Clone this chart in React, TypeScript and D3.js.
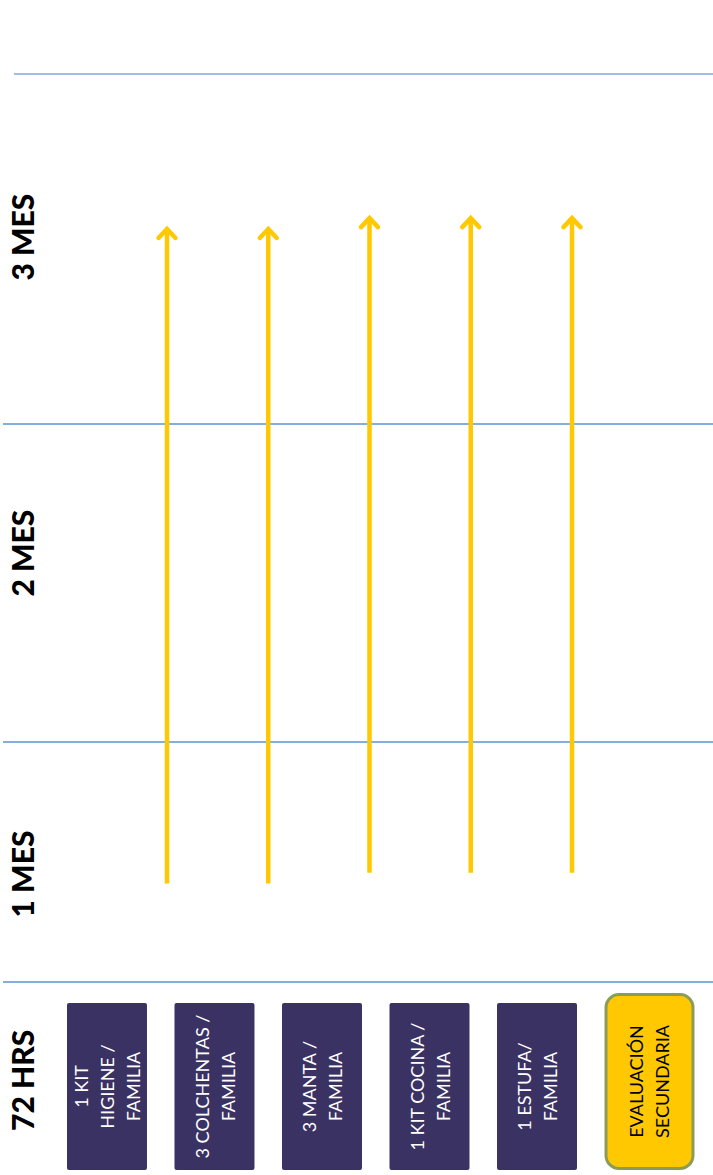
import * as d3 from "d3";

// time in months along the (vertical) timeline; the slide is rotated
const boundaryMonths = [0, 1, 2, 3];
const periodLabels = ["72 HRS", "1 MES", "2 MES", "3 MES"];
const periodLabelAt = [-0.41, 0.45, 1.594, 2.534];

const items = [
  ["1 KIT", "HIGIENE /", "FAMILIA"],
  ["3 COLCHENTAS /", "FAMILIA"],
  ["3 MANTA /", "FAMILIA"],
  ["1 KIT COCINA /", "FAMILIA"],
  ["1 ESTUFA/", "FAMILIA"],
];
const evalLabel = ["EVALUACIÓN", "SECUNDARIA"];

const arrowStart = [0.41, 0.41, 0.455, 0.455, 0.455];
const arrowEnd = [2.563, 2.563, 2.594, 2.594, 2.594];

const W = 713;
const H = 1175;
const FONT = "Lato, 'Open Sans', sans-serif";

export default function App() {
  const y = d3.scaleLinear().domain(boundaryMonths).range([982, 742, 424, 74]);

  const boxKeys = [...items.map((_, i) => "item" + i), "eval"];
  const x = d3.scaleBand<string>().domain(boxKeys).range([67, 684.5]).paddingInner(0.256).paddingOuter(0);
  const ax = d3.scalePoint<number>().domain(d3.range(items.length)).range([167, 572]);

  const boxTop = y(-0.088);
  const boxBottom = y(-0.783);
  const evalTop = y(-0.046);

  const lineH = 26;

  const rotatedText = (cx: number, cy: number, lines: string[], fill: string, size: number) => (
    <text
      transform={`translate(${cx},${cy}) rotate(-90)`}
      textAnchor="middle"
      fontFamily={FONT}
      fontSize={size}
      fill={fill}
    >
      {lines.map((l, j) => (
        <tspan key={j} x={0} y={(j - (lines.length - 1) / 2) * lineH} dy="0.35em">
          {l}
        </tspan>
      ))}
    </text>
  );

  return (
    <svg width={W} height={H} style={{ position: "absolute", left: 0, top: 0, background: "#fff" }}>
      {/* period boundaries */}
      {boundaryMonths.map((m, i) => (
        <line
          key={m}
          x1={i === boundaryMonths.length - 1 ? 14 : 3}
          x2={W}
          y1={y(m)}
          y2={y(m)}
          stroke={i === boundaryMonths.length - 1 ? "#7fa9dc" : "#5b93d3"}
          strokeWidth={1.6}
        />
      ))}

      {/* period labels */}
      {periodLabels.map((p, i) => (
        <text
          key={p}
          transform={`translate(23,${y(periodLabelAt[i])}) rotate(-90)`}
          textAnchor="middle"
          dy="0.35em"
          fontFamily={FONT}
          fontWeight={900}
          fontSize={30}
          fill="#000"
        >
          {p}
        </text>
      ))}

      {/* arrows */}
      {items.map((_, i) => {
        const cx = ax(i)!;
        const y0 = y(arrowStart[i]);
        const y1 = y(arrowEnd[i]);
        return (
          <g key={i} stroke="#ffc800" strokeWidth={4.5} fill="none">
            <line x1={cx} x2={cx} y1={y0} y2={y1 + 2} />
            <polyline
              points={`${cx - 8.5},${y1 + 11} ${cx},${y1 + 2} ${cx + 8.5},${y1 + 11}`}
              strokeLinecap="round"
              strokeLinejoin="miter"
            />
          </g>
        );
      })}

      {/* item boxes */}
      {items.map((lines, i) => {
        const bx = x("item" + i)!;
        const bw = x.bandwidth();
        return (
          <g key={i}>
            <rect x={bx} y={boxTop} width={bw} height={boxBottom - boxTop} rx={2} fill="#3b3264" />
            {rotatedText(bx + bw / 2 + 1, (boxTop + boxBottom) / 2, lines, "#fff", 18)}
          </g>
        );
      })}

      {/* evaluation box */}
      {(() => {
        const bx = x("eval")!;
        const bw = x.bandwidth() + 10;
        return (
          <g>
            <rect
              x={bx + 1.5}
              y={evalTop + 1.5}
              width={bw - 3}
              height={boxBottom - evalTop - 3}
              rx={13}
              fill="#ffc800"
              stroke="#8a9c58"
              strokeWidth={3}
            />
            {rotatedText(bx + bw / 2, (evalTop + boxBottom) / 2, evalLabel, "#000", 18)}
          </g>
        );
      })()}
    </svg>
  );
}
